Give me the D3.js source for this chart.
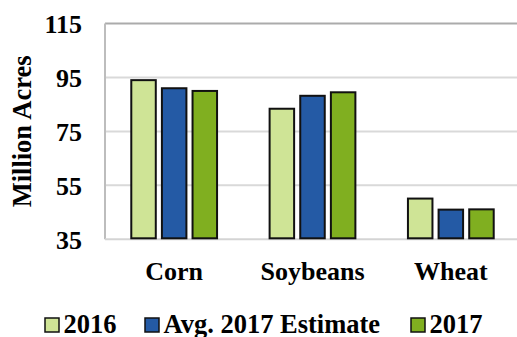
<!DOCTYPE html>
<html>
<head>
<meta charset="utf-8">
<script src="https://cdn.jsdelivr.net/npm/d3@7"></script>
<style>
  html, body { margin: 0; padding: 0; background: #fff; }
  svg { display: block; }
</style>
</head>
<body>
<svg id="chart" width="517" height="337" font-family="Liberation Serif" font-weight="bold"></svg>
<script>
// Planted acreage by crop (million acres)
const categories = ["Corn", "Soybeans", "Wheat"];
const seriesNames = ["2016", "Avg. 2017 Estimate", "2017"];
const values2016 = [94.0, 83.4, 50.1];
const valuesAvgEstimate = [91.0, 88.2, 46.0];
const values2017 = [90.0, 89.5, 46.1];
const yTicks = [35, 55, 75, 95, 115];
const colors = ["#cfe496", "#245aa5", "#80af20"];

const seriesValues = [values2016, valuesAvgEstimate, values2017];
const FONT = "Liberation Serif";

const svg = d3.select("#chart");
const margin = { left: 105, right: -3, top: 23.5, bottom: 97.7 };
const W = 517, H = 337;
const plotL = margin.left, plotR = W - margin.right;
const plotT = margin.top, plotB = H - margin.bottom;

const y = d3.scaleLinear().domain([35, 115]).range([plotB, plotT]);
const x0 = d3.scaleBand().domain(categories).range([plotL, plotR]).paddingInner(0).paddingOuter(0);
const x1 = d3.scaleBand().domain(seriesNames).range([0, x0.bandwidth()])
  .paddingInner(0.2).paddingOuter(0.858);

// Gridlines
svg.append("g")
  .selectAll("line")
  .data(yTicks.filter(t => t !== 115 && t !== 35))
  .join("line")
  .attr("x1", plotL).attr("x2", plotR)
  .attr("y1", d => y(d)).attr("y2", d => y(d))
  .attr("stroke", "#d9d9d9").attr("stroke-width", 2);

// Plot frame
svg.append("line").attr("x1", plotL).attr("x2", plotR).attr("y1", y(115)).attr("y2", y(115))
  .attr("stroke", "#ababab").attr("stroke-width", 2);
svg.append("line").attr("x1", plotL).attr("x2", plotL).attr("y1", y(115)).attr("y2", y(35))
  .attr("stroke", "#bdbdbd").attr("stroke-width", 2);
svg.append("line").attr("x1", plotL).attr("x2", plotR).attr("y1", y(35)).attr("y2", y(35))
  .attr("stroke", "#d4d4d4").attr("stroke-width", 2);

// Bars
const groups = svg.append("g")
  .selectAll("g")
  .data(categories)
  .join("g")
  .attr("transform", d => `translate(${x0(d)},0)`);

groups.selectAll("rect")
  .data((c, i) => seriesNames.map((s, j) => ({ s, j, v: seriesValues[j][i] })))
  .join("rect")
  .attr("x", d => x1(d.s))
  .attr("width", x1.bandwidth())
  .attr("y", d => y(d.v))
  .attr("height", d => y(35) - y(d.v) - 1)
  .attr("fill", d => colors[d.j])
  .attr("stroke", "#111")
  .attr("stroke-width", 2);

// Y axis labels
const yAxis = d3.axisLeft(y).tickValues(yTicks).tickSize(0).tickPadding(0).tickFormat(d3.format("d"));
const yG = svg.append("g").attr("transform", `translate(${plotL - 23},0)`).call(yAxis)
  .attr("font-family", FONT).attr("font-size", 26).attr("font-weight", "bold");
yG.select(".domain").remove();
yG.selectAll("text").attr("fill", "#000").attr("dy", "0.34em");

// X axis category labels
const xAxis = d3.axisBottom(x0).tickSize(0).tickPadding(0);
const xG = svg.append("g").attr("transform", `translate(0,${plotB})`).call(xAxis)
  .attr("font-family", FONT).attr("font-size", 26).attr("font-weight", "bold");
xG.select(".domain").remove();
xG.selectAll("text").attr("fill", "#000").attr("dy", null).attr("y", 41);

// Y axis title
svg.append("text")
  .attr("transform", `translate(31,${(plotT + plotB) / 2}) rotate(-90)`)
  .attr("text-anchor", "middle")
  .attr("font-size", 26.5)
  .text("Million Acres");

// Legend
const legendX = [45, 145, 411];
const legend = svg.append("g").selectAll("g")
  .data(seriesNames)
  .join("g")
  .attr("transform", (d, i) => `translate(${legendX[i]},318)`);
legend.append("rect")
  .attr("width", 14).attr("height", 14)
  .attr("fill", (d, i) => colors[i])
  .attr("stroke", "#111").attr("stroke-width", 1.5);
legend.append("text")
  .attr("x", 18.5).attr("y", 15)
  .attr("font-size", 26.5)
  .text(d => d);
</script>
</body>
</html>
